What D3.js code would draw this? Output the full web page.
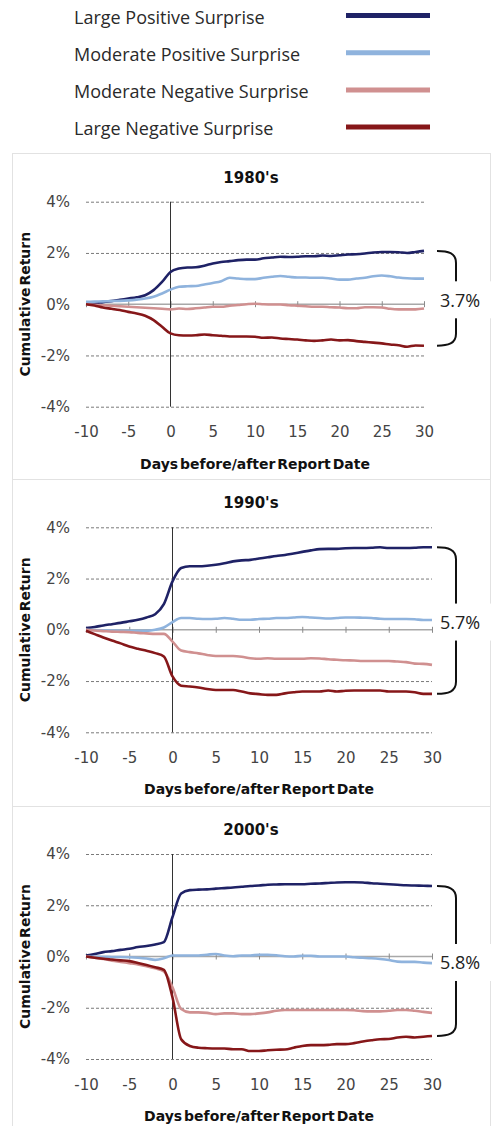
<!DOCTYPE html>
<html>
<head>
<meta charset="utf-8">
<style>
body { margin: 0; background: #fff; }
.chart svg { display: block; }
.grid .tick line { stroke: #7a7a7a; stroke-dasharray: 3,2; }
.grid .domain, .xLabels .domain, .zeroTicks .domain { display: none; }
.zeroTicks .tick line { stroke: #8a8a8a; }
</style>
</head>
<body>
<div class="chart"></div>
<script src="https://d3js.org/d3.v7.min.js"></script>
<script>
  // 類別 / 刻度
  const days = [-10,-9,-8,-7,-6,-5,-4,-3,-2,-1,0,1,2,3,4,5,6,7,8,9,10,
                11,12,13,14,15,16,17,18,19,20,21,22,23,24,25,26,27,28,29,30]
  const xTicks = [-10,-5,0,5,10,15,20,25,30]
  const yTicks = [-4,-2,0,2,4]
  const decades = ["1980's", "1990's", "2000's"]
  const seriesNames = ['Large Positive Surprise', 'Moderate Positive Surprise',
                       'Moderate Negative Surprise', 'Large Negative Surprise']
  const spreadLabels = ['3.7%', '5.7%', '5.8%']

  // 累積報酬 (%)
  const lp1980 = [0.05,0.04,0.08,0.12,0.17,0.22,0.27,0.35,0.55,0.87,
                  1.26,1.39,1.43,1.44,1.5,1.59,1.65,1.68,1.72,1.74,
                  1.74,1.79,1.82,1.85,1.84,1.85,1.87,1.87,1.9,1.88,
                  1.91,1.94,1.95,1.98,2.02,2.04,2.04,2.03,2.0,2.04,2.08]
  const mp1980 = [0.09,0.1,0.11,0.12,0.13,0.15,0.18,0.22,0.29,0.42,
                  0.57,0.68,0.7,0.71,0.77,0.83,0.9,1.03,1.0,0.98,
                  0.98,1.03,1.07,1.1,1.07,1.04,1.04,1.03,1.03,1.0,
                  0.96,0.96,1.0,1.03,1.09,1.12,1.09,1.04,1.01,1.0,1.0]
  const mn1980 = [0,-0.02,-0.04,-0.06,-0.08,-0.1,-0.12,-0.14,-0.16,-0.18,
                  -0.2,-0.17,-0.19,-0.16,-0.13,-0.1,-0.1,-0.06,-0.03,0.0,
                  0.02,0.0,-0.01,-0.01,-0.04,-0.06,-0.08,-0.1,-0.1,-0.12,
                  -0.13,-0.16,-0.16,-0.12,-0.12,-0.13,-0.18,-0.2,-0.2,-0.2,-0.17]
  const ln1980 = [0,-0.05,-0.13,-0.18,-0.23,-0.3,-0.36,-0.45,-0.62,-0.88,
                  -1.14,-1.21,-1.22,-1.21,-1.18,-1.21,-1.23,-1.26,-1.26,-1.26,
                  -1.27,-1.31,-1.3,-1.34,-1.36,-1.38,-1.41,-1.43,-1.41,-1.38,
                  -1.41,-1.4,-1.44,-1.47,-1.5,-1.53,-1.57,-1.6,-1.66,-1.61,-1.62]

  const lp1990 = [0.07,0.11,0.17,0.22,0.27,0.33,0.39,0.48,0.61,1.0,
                  1.89,2.41,2.48,2.48,2.5,2.54,2.6,2.67,2.71,2.73,
                  2.78,2.83,2.88,2.92,2.98,3.04,3.1,3.15,3.16,3.16,
                  3.18,3.19,3.19,3.2,3.22,3.19,3.19,3.19,3.2,3.22,3.22]
  const mp1990 = [0,-0.01,-0.02,-0.03,-0.04,-0.04,-0.04,-0.04,0,0.09,
                  0.3,0.46,0.46,0.43,0.42,0.43,0.46,0.43,0.39,0.39,
                  0.42,0.43,0.46,0.46,0.48,0.5,0.48,0.46,0.44,0.46,
                  0.48,0.48,0.47,0.46,0.43,0.42,0.42,0.42,0.41,0.38,0.38]
  const mn1990 = [0,-0.03,-0.05,-0.07,-0.08,-0.09,-0.12,-0.14,-0.16,-0.16,
                  -0.46,-0.81,-0.87,-0.92,-0.98,-1.02,-1.02,-1.02,-1.05,-1.11,
                  -1.13,-1.11,-1.13,-1.13,-1.13,-1.13,-1.11,-1.12,-1.15,-1.17,
                  -1.19,-1.2,-1.22,-1.22,-1.22,-1.22,-1.24,-1.26,-1.32,-1.33,-1.37]
  const ln1990 = [-0.04,-0.17,-0.3,-0.42,-0.53,-0.65,-0.74,-0.82,-0.91,-1.04,
                  -1.82,-2.18,-2.21,-2.25,-2.31,-2.35,-2.35,-2.35,-2.41,-2.48,
                  -2.51,-2.54,-2.54,-2.48,-2.44,-2.41,-2.41,-2.41,-2.37,-2.41,
                  -2.38,-2.37,-2.37,-2.37,-2.37,-2.41,-2.41,-2.41,-2.44,-2.5,-2.5]

  const lp2000 = [0.04,0.1,0.17,0.21,0.26,0.3,0.37,0.41,0.47,0.56,
                  1.54,2.46,2.59,2.61,2.62,2.65,2.67,2.69,2.72,2.75,
                  2.77,2.8,2.81,2.82,2.82,2.82,2.84,2.85,2.87,2.89,
                  2.9,2.9,2.89,2.86,2.84,2.82,2.8,2.78,2.77,2.76,2.75]
  const mp2000 = [0,-0.01,-0.01,-0.02,-0.02,-0.03,-0.05,-0.08,-0.13,-0.07,
                  0.04,0.04,0.04,0.04,0.07,0.1,0.04,0.01,0.04,0.04,
                  0.07,0.07,0.05,0.01,0,0.03,0.03,0,0,0,
                  0,-0.03,-0.05,-0.07,-0.1,-0.14,-0.2,-0.21,-0.21,-0.24,-0.26]
  const mn2000 = [0,-0.05,-0.1,-0.16,-0.21,-0.26,-0.31,-0.38,-0.46,-0.58,
                  -1.2,-2.05,-2.18,-2.18,-2.2,-2.25,-2.22,-2.22,-2.25,-2.25,
                  -2.22,-2.18,-2.12,-2.09,-2.09,-2.09,-2.09,-2.09,-2.09,-2.09,
                  -2.09,-2.1,-2.13,-2.14,-2.14,-2.12,-2.09,-2.09,-2.12,-2.16,-2.2]
  const ln2000 = [0,-0.05,-0.09,-0.12,-0.15,-0.18,-0.25,-0.33,-0.42,-0.52,
                  -1.6,-3.23,-3.49,-3.56,-3.58,-3.59,-3.59,-3.62,-3.62,-3.69,
                  -3.69,-3.66,-3.64,-3.63,-3.56,-3.49,-3.46,-3.46,-3.45,-3.42,
                  -3.42,-3.38,-3.32,-3.27,-3.23,-3.22,-3.16,-3.13,-3.16,-3.13,-3.1]

  const colors = ['#1f2266', '#8fb3dd', '#d09090', '#861719']

  // 三個面板的位置
  const panels = [
    { top: 201.7, right: 424, frameTop: 153, frameBottom: 479, series: [lp1980, mp1980, mn1980, ln1980] },
    { top: 527.3, right: 432, frameTop: 479, frameBottom: 806, series: [lp1990, mp1990, mn1990, ln1990] },
    { top: 854,   right: 432, frameTop: 806, frameBottom: 1130, series: [lp2000, mp2000, mn2000, ln2000] }
  ]
  const plotHeight = 205,
        left = 86,
        tickFont = 'DejaVu Sans, Verdana, sans-serif'

  const svg = d3.select('.chart')
                .append('svg')
                .attr('width', 497)
                .attr('height', 1126)

  // 圖例
  const legend = svg.append('g')
  seriesNames.forEach((name, i) => {
    const base = 23.5 + i * 37.2
    legend.append('text')
          .attr('x', 74)
          .attr('y', base)
          .attr('font-family', 'Open Sans, sans-serif')
          .attr('font-size', 18)
          .attr('fill', '#2a2a2a')
          .text(name)
    legend.append('line')
          .attr('x1', 346).attr('x2', 430)
          .attr('y1', base - 8).attr('y2', base - 8)
          .attr('stroke', colors[i])
          .attr('stroke-width', 5)
  })

  panels.forEach((p, k) => {
    const g = svg.append('g')

    g.append('rect')
     .attr('x', 12.5).attr('y', p.frameTop + 0.5)
     .attr('width', 478).attr('height', p.frameBottom - p.frameTop)
     .attr('fill', 'none')
     .attr('stroke', '#e2e2e2')

    const xScale = d3.scaleLinear().domain([-10, 30]).range([left, p.right])
    const yScale = d3.scaleLinear().domain([-4, 4]).range([p.top + plotHeight, p.top])

    // 格線 + y 軸刻度
    const yAxis = d3.axisLeft(yScale)
                    .tickValues(yTicks)
                    .tickSizeInner(-(p.right - left))
                    .tickSizeOuter(0)
                    .tickPadding(16)
                    .tickFormat(d => d + '%')
    g.append('g')
     .attr('class', 'grid')
     .attr('transform', `translate(${left}, 0)`)
     .call(yAxis)
     .call(s => s.selectAll('.tick').filter(d => d === 0).select('line').remove())
     .call(s => s.selectAll('text')
                 .attr('font-family', tickFont)
                 .attr('font-size', 15)
                 .attr('fill', '#444'))

    // x 軸刻度文字（用一般的減號）
    const xAxis = d3.axisBottom(xScale)
                    .tickValues(xTicks)
                    .tickSize(0)
                    .tickPadding(20)
                    .tickFormat(d => String(d))
    g.append('g')
     .attr('class', 'xLabels')
     .attr('transform', `translate(0, ${yScale(-4)})`)
     .call(xAxis)
     .call(s => s.selectAll('text')
                 .attr('font-family', tickFont)
                 .attr('font-size', 15)
                 .attr('fill', '#444'))

    // 0% 軸線
    g.append('line')
     .attr('x1', xScale(-10)).attr('x2', xScale(30))
     .attr('y1', yScale(0)).attr('y2', yScale(0))
     .attr('stroke', '#a8a8a8')
     .attr('stroke-width', 1.5)
    g.append('g')
     .attr('class', 'zeroTicks')
     .attr('transform', `translate(0, ${yScale(0) - 3})`)
     .call(d3.axisBottom(xScale).tickValues(xTicks).tickSize(6).tickFormat(''))

    // 公告日垂直線
    g.append('line')
     .attr('x1', xScale(0)).attr('x2', xScale(0))
     .attr('y1', yScale(4)).attr('y2', yScale(-4))
     .attr('stroke', '#333')

    // 折線
    const line = d3.line()
                   .x((d, i) => xScale(days[i]))
                   .y(d => yScale(d))
                   .curve(d3.curveMonotoneX)
    p.series.forEach((s, i) => {
      g.append('path')
       .attr('fill', 'none')
       .attr('stroke', colors[i])
       .attr('stroke-width', 2.6)
       .attr('stroke-linejoin', 'round')
       .attr('d', line(s))
    })

    // 標題
    g.append('text')
     .attr('x', 251).attr('y', p.top - 19)
     .attr('text-anchor', 'middle')
     .attr('font-family', tickFont)
     .attr('font-weight', 'bold')
     .attr('font-size', 15)
     .attr('fill', '#111')
     .text(decades[k])

    g.append('text')
     .attr('x', (left + p.right) / 2).attr('y', yScale(-4) + 62)
     .attr('text-anchor', 'middle')
     .attr('font-family', tickFont)
     .attr('font-weight', 'bold')
     .attr('font-size', 14)
     .attr('word-spacing', -3)
     .attr('fill', '#111')
     .text('Days before/after Report Date')

    g.append('text')
     .attr('transform', `translate(25, ${yScale(0)}) rotate(-90)`)
     .attr('dy', '0.35em')
     .attr('text-anchor', 'middle')
     .attr('font-family', tickFont)
     .attr('font-weight', 'bold')
     .attr('font-size', 14)
     .attr('word-spacing', -3)
     .attr('fill', '#111')
     .text('Cumulative Return')

    // 大括號：最大正向與最大負向的差距
    const last = days.length - 1
    const yTop = yScale(p.series[0][last]),
          yBot = yScale(p.series[3][last]),
          mid = (yTop + yBot) / 2
    g.append('path')
     .attr('fill', 'none')
     .attr('stroke', '#111')
     .attr('stroke-width', 2)
     .attr('d', `M437,${yTop} C448,${yTop} 456,${yTop + 2} 456,${yTop + 12}
                 L456,${yBot - 12} C456,${yBot - 2} 448,${yBot} 437,${yBot}`)
    g.append('rect')
     .attr('x', 437).attr('y', mid - 17)
     .attr('width', 62).attr('height', 37)
     .attr('fill', '#fff')
    g.append('text')
     .attr('x', 440).attr('y', mid + 2)
     .attr('dy', '0.35em')
     .attr('font-family', 'Open Sans, sans-serif')
     .attr('font-size', 18)
     .attr('fill', '#222')
     .text(spreadLabels[k])
  })
</script>
</body>
</html>
